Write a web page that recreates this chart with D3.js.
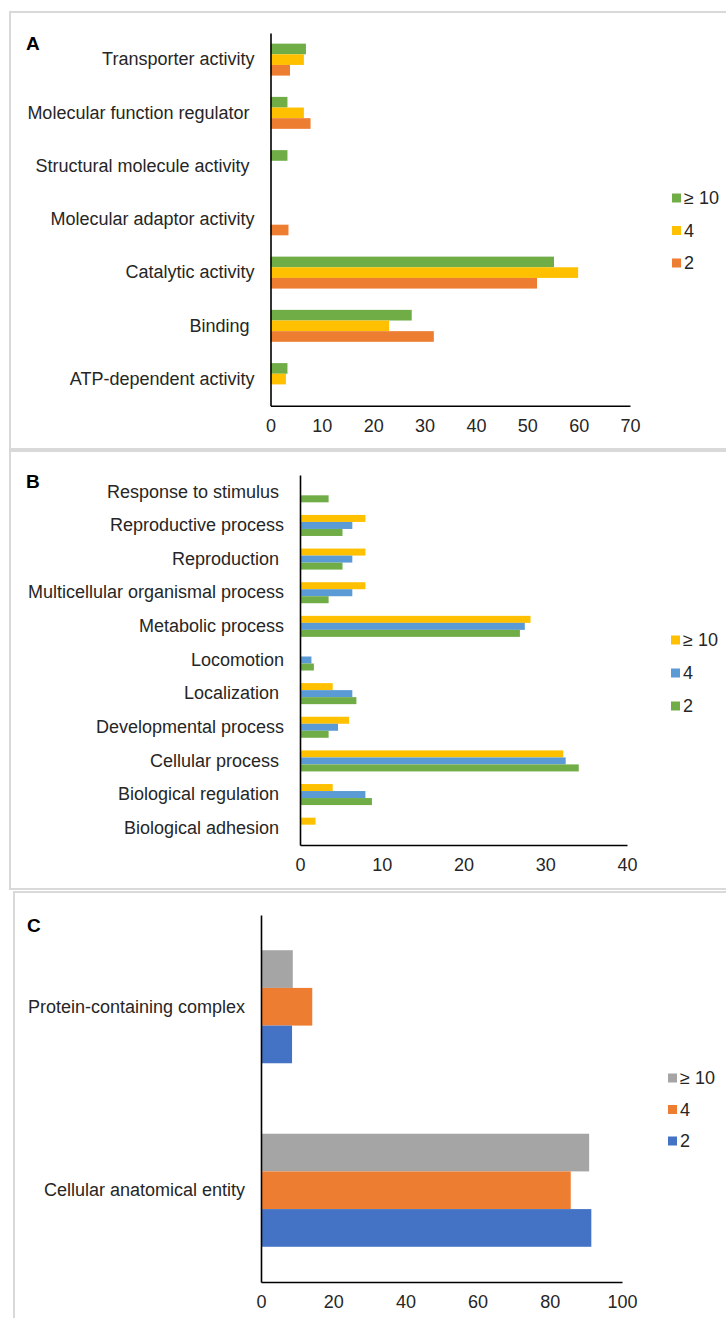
<!DOCTYPE html>
<html>
<head>
<meta charset="utf-8">
<script src="https://cdn.jsdelivr.net/npm/d3@7"></script>
<style>
  html, body { margin: 0; padding: 0; background: #fff; }
  svg text { font-family: "Liberation Sans", Arial, sans-serif; fill: #262626; white-space: pre; }
</style>
</head>
<body>
<svg id="chart" width="726" height="1318"></svg>
<script>
// ---------- DATA ----------
const seriesNames = ["≥ 10", "4", "2"];

// Panel A – molecular function
const catsA = ["Transporter activity", "Molecular function regulator ", "Structural molecule activity ",
  "Molecular adaptor activity", "Catalytic activity", "Binding ", "ATP-dependent activity"];
const valsA_ge10 = [6.9, 3.3, 3.3, 0, 55.2, 27.5, 3.3];
const valsA_4    = [6.5, 6.5, 0, 0, 59.9, 23.1, 3.0];
const valsA_2    = [3.8, 7.8, 0, 3.5, 51.9, 31.8, 0];
const ticksA = [0, 10, 20, 30, 40, 50, 60, 70];

// Panel B – biological process
const catsB = ["Response to stimulus ", "Reproductive process", "Reproduction ",
  "Multicellular organismal process", "Metabolic process", "Locomotion", "Localization ",
  "Developmental process", "Cellular process ", "Biological regulation ", "Biological adhesion "];
const valsB_ge10 = [0, 8.0, 8.0, 8.0, 28.2, 0, 4.0, 6.0, 32.2, 4.0, 1.9];
const valsB_4    = [0, 6.4, 6.4, 6.4, 27.5, 1.4, 6.4, 4.65, 32.5, 8.0, 0];
const valsB_2    = [3.5, 5.2, 5.2, 3.5, 26.9, 1.7, 6.9, 3.5, 34.1, 8.8, 0];
const ticksB = [0, 10, 20, 30, 40];

// Panel C – cellular component
const catsC = ["Protein-containing complex", "Cellular anatomical entity"];
const valsC_ge10 = [8.8, 90.9];
const valsC_4    = [14.2, 85.8];
const valsC_2    = [8.6, 91.5];
const ticksC = [0, 20, 40, 60, 80, 100];

// ---------- DRAWING ----------
const svg = d3.select("#chart");
const FONT = 18;

function drawPanel(p) {
  const g = svg.append("g");
  // frame
  g.append("rect").attr("x", p.frame[0]).attr("y", p.frame[1])
    .attr("width", p.frame[2]).attr("height", p.frame[3])
    .attr("fill", "none").attr("stroke", "#d9d9d9").attr("stroke-width", 2);
  // letter
  g.append("text").attr("x", p.letterPos[0]).attr("y", p.letterPos[1])
    .attr("font-size", 19).attr("font-weight", "bold").style("fill", "#000").text(p.letter);

  const x = d3.scaleLinear().domain(p.domain).range(p.xRange);
  const y = d3.scaleBand().domain(p.cats).range(p.yRange)
    .paddingInner(p.pad).paddingOuter(p.pad / 2);
  const sub = d3.scaleBand().domain(d3.range(p.series.length)).range([0, y.bandwidth()]);

  // bars
  p.series.forEach((vals, si) => {
    g.append("g").selectAll("rect").data(vals.map((v, i) => ({ v, c: p.cats[i] })))
      .join("rect")
      .attr("x", x(0))
      .attr("y", d => y(d.c) + sub(si))
      .attr("width", d => x(d.v) - x(0))
      .attr("height", sub.bandwidth())
      .attr("fill", p.colors[si]);
  });

  // x axis
  const xa = g.append("g").attr("transform", `translate(0,${p.yRange[1]})`)
    .call(d3.axisBottom(x).tickValues(p.ticks).tickSize(0).tickSizeOuter(0).tickPadding(13.5));
  xa.select(".domain").attr("stroke", "#000").attr("stroke-width", 1.6);
  xa.selectAll("text").attr("font-size", FONT).style("font-family", null);

  // y axis
  const ya = g.append("g").attr("transform", `translate(${p.xRange[0]},0)`)
    .call(d3.axisLeft(y).tickSize(0).tickSizeOuter(0).tickPadding(16));
  ya.select(".domain").attr("stroke", "#000").attr("stroke-width", 1.6);
  ya.selectAll("text").attr("font-size", FONT);

  // legend
  const lg = g.append("g");
  seriesNames.forEach((name, i) => {
    const cy = p.legend.y[i];
    lg.append("rect").attr("x", p.legend.x).attr("y", cy - 4.5)
      .attr("width", 9).attr("height", 9).attr("fill", p.colors[i]);
    lg.append("text").attr("x", p.legend.x + 12).attr("y", cy).attr("dy", "0.36em")
      .attr("font-size", FONT).text(name);
  });
}

const GREEN = "#70AD47", YELLOW = "#FFC000", ORANGE = "#ED7D31",
      LBLUE = "#5B9BD5", DBLUE = "#4472C4", GRAY = "#A5A5A5";

drawPanel({
  frame: [10, 12, 730, 437], letter: "A", letterPos: [26, 50],
  cats: catsA, series: [valsA_ge10, valsA_4, valsA_2], colors: [GREEN, YELLOW, ORANGE],
  domain: [0, 70], ticks: ticksA, xRange: [270.5, 630], yRange: [33, 405.7], pad: 0.4,
  legend: { x: 672, y: [198, 230.5, 263] }
});

drawPanel({
  frame: [10, 451, 730, 438], letter: "B", letterPos: [26, 488],
  cats: catsB, series: [valsB_ge10, valsB_4, valsB_2], colors: [YELLOW, LBLUE, GREEN],
  domain: [0, 40], ticks: ticksB, xRange: [300, 627], yRange: [475, 845], pad: 0.375,
  legend: { x: 671, y: [640, 673, 706] }
});

drawPanel({
  frame: [14, 892, 730, 440], letter: "C", letterPos: [27, 932],
  cats: catsC, series: [valsC_ge10, valsC_4, valsC_2], colors: [GRAY, ORANGE, DBLUE],
  domain: [0, 100], ticks: ticksC, xRange: [261, 622], yRange: [915, 1282], pad: 0.384,
  legend: { x: 668, y: [1078, 1109.5, 1141] }
});
</script>
</body>
</html>
